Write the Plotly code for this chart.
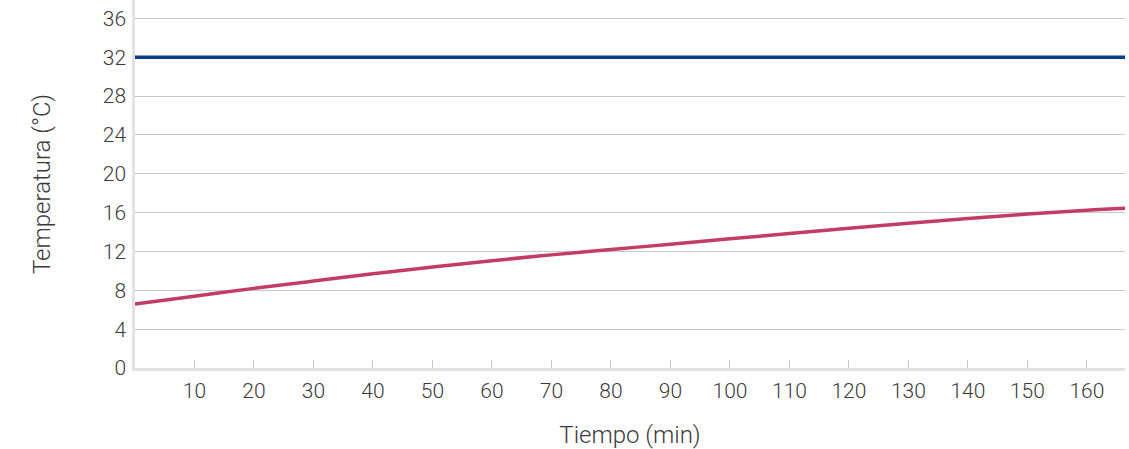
import plotly.graph_objects as go

# Data
time_min = [0, 10, 20, 30, 40, 50, 60, 70, 80, 90, 100, 110, 120, 130, 140, 150, 160, 166.4]
temp_red = [6.6, 7.4, 8.2, 8.95, 9.7, 10.4, 11.05, 11.65, 12.2, 12.75, 13.3, 13.85, 14.4, 14.9, 15.4, 15.85, 16.25, 16.45]
time_blue = [0, 166.4]
temp_blue = [32, 32]

x_ticks = [10, 20, 30, 40, 50, 60, 70, 80, 90, 100, 110, 120, 130, 140, 150, 160]
y_ticks = [0, 4, 8, 12, 16, 20, 24, 28, 32, 36]

font_family = "Roboto"
text_color = "#3c3a3b"

fig = go.Figure()
fig.add_trace(go.Scatter(x=time_blue, y=temp_blue, mode="lines",
                         line=dict(color="#0b3d8e", width=3.5), showlegend=False))
fig.add_trace(go.Scatter(x=time_min, y=temp_red, mode="lines",
                         line=dict(color="#c23c65", width=3.5, shape="spline", smoothing=1.0),
                         showlegend=False))

fig.update_layout(
    width=1129, height=449,
    margin=dict(l=135, r=4, t=0, b=81),
    paper_bgcolor="white", plot_bgcolor="white",
    font=dict(family=font_family, color=text_color, size=21, weight=300),
    xaxis=dict(
        range=[0, 166.4], tickvals=x_ticks, ticktext=[str(v) for v in x_ticks],
        showgrid=False, zeroline=False, automargin=False,
        showline=True, linecolor="#e2e2e2", linewidth=2.5,
        ticks="inside", ticklen=8, tickcolor="#c8c8c8", tickwidth=1,
        ticklabelstandoff=2,
        tickfont=dict(family=font_family, size=21, color=text_color, weight=300),
        title=dict(text="Tiempo (min)", standoff=25,
                   font=dict(family=font_family, size=24, color=text_color, weight=300)),
    ),
    yaxis=dict(
        range=[0, 37.9], tickvals=y_ticks, ticktext=[str(v) for v in y_ticks],
        showgrid=True, gridcolor="#c8c8c8", gridwidth=1,
        zeroline=False, showline=True, linecolor="#e2e2e2", linewidth=2.5,
        ticks="", ticklabelstandoff=2, automargin=False,
        tickfont=dict(family=font_family, size=21, color=text_color, weight=300),
        title=dict(text="Temperatura (°C)", standoff=46,
                   font=dict(family=font_family, size=24, color=text_color, weight=300)),
    ),
)

fig.write_html("out.html", config={"displayModeBar": False},
               post_script="document.body.style.margin='0';")
